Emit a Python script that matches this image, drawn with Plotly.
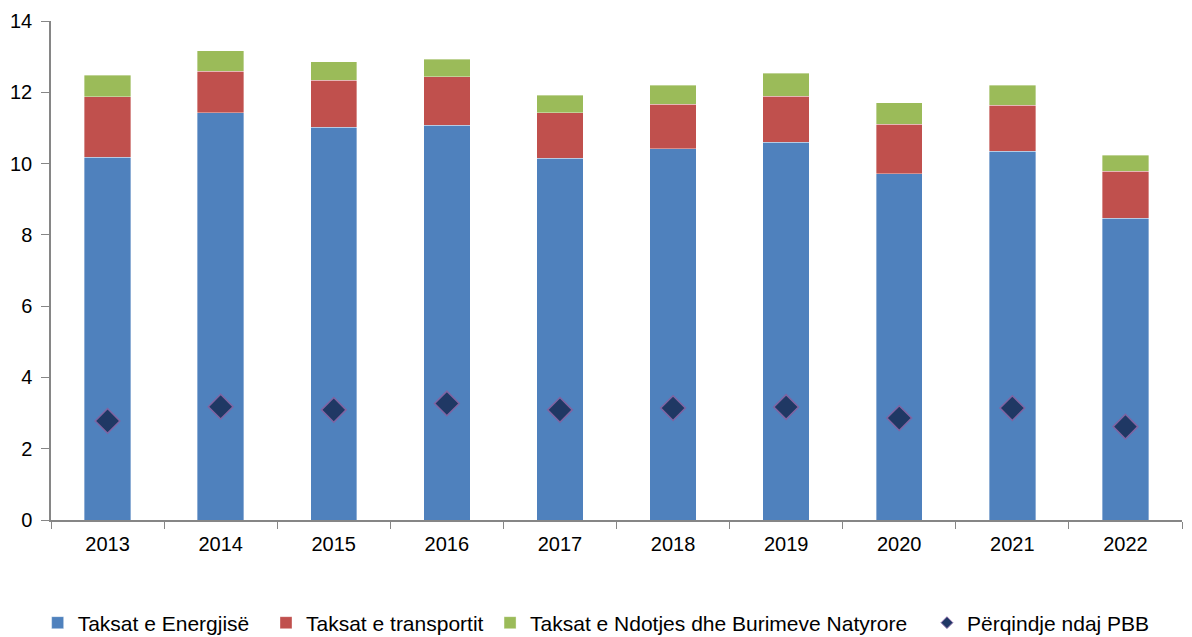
import plotly.graph_objects as go

years = ["2013", "2014", "2015", "2016", "2017", "2018", "2019", "2020", "2021", "2022"]
energy = [10.18, 11.42, 11.02, 11.08, 10.15, 10.41, 10.60, 9.71, 10.35, 8.47]
transport = [1.69, 1.17, 1.32, 1.35, 1.27, 1.26, 1.29, 1.40, 1.29, 1.32]
pollution = [0.61, 0.57, 0.51, 0.50, 0.50, 0.53, 0.65, 0.59, 0.56, 0.45]
gdp_share = [2.78, 3.18, 3.09, 3.27, 3.09, 3.14, 3.17, 2.86, 3.14, 2.62]

fig = go.Figure()
bar_line = dict(color="rgba(255,255,255,0.6)", width=0.6)
fig.add_trace(go.Bar(x=years, y=energy, name="Taksat e Energjisë", legend="legend",
                     marker=dict(color="#4F81BD", line=bar_line), width=0.41))
fig.add_trace(go.Bar(x=years, y=transport, name="Taksat e transportit", legend="legend2",
                     marker=dict(color="#C0504D", line=bar_line), width=0.41))
fig.add_trace(go.Bar(x=years, y=pollution, name="Taksat e Ndotjes dhe Burimeve Natyrore",
                     legend="legend3",
                     marker=dict(color="#9BBB59", line=bar_line), width=0.41))
fig.add_trace(go.Scatter(x=years, y=gdp_share, name="Përqindje ndaj PBB", mode="markers",
                         showlegend=False,
                         marker=dict(symbol="diamond", size=19, color="#1F3864",
                                     line=dict(color="#8064A2", width=1.5))))
# legend entry with a small diamond, as in the reference
fig.add_trace(go.Scatter(x=[None], y=[None], name="Përqindje ndaj PBB", mode="markers",
                         legend="legend4",
                         marker=dict(symbol="diamond", size=9, color="#1F3864",
                                     line=dict(color="#8064A2", width=1))))

leg_common = dict(orientation="h", xanchor="left", y=-0.2064, yanchor="middle",
                  font=dict(size=21), itemwidth=30, bgcolor="rgba(0,0,0,0)")
fig.update_layout(
    barmode="stack",
    width=1192, height=637,
    margin=dict(l=43, r=18, t=13, b=125, autoexpand=False),
    plot_bgcolor="white", paper_bgcolor="white",
    font=dict(family="Liberation Sans, Arial, sans-serif", size=20, color="#000000"),
    legend=dict(x=-0.0118, **leg_common),
    legend2=dict(x=0.1901, **leg_common),
    legend3=dict(x=0.3882, **leg_common),
    legend4=dict(x=0.7745, **leg_common),
    showlegend=True,
)
fig.update_xaxes(type="category", range=[-0.5, 9.5], showline=True, linecolor="#868686",
                 linewidth=1.5, ticks="outside", tickson="boundaries", ticklen=7,
                 tickcolor="#868686", showgrid=False, tickfont=dict(size=20), automargin=False,
                 ticklabelstandoff=5)
fig.update_yaxes(range=[0, 14], dtick=2, showline=True, linecolor="#868686", linewidth=1.5,
                 ticks="outside", ticklen=8, tickcolor="#868686", showgrid=False,
                 zeroline=False, tickfont=dict(size=20), automargin=False,
                 ticklabelstandoff=5)

fig.write_html("out.html")
